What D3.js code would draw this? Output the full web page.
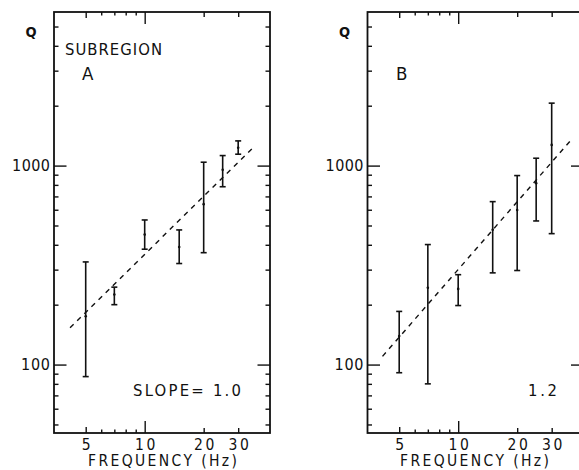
<!DOCTYPE html>
<html>
<head>
<meta charset="utf-8">
<script src="https://cdn.jsdelivr.net/npm/d3@7"></script>
<style>
  body { margin: 0; background: #fff; }
  svg text { font-family: "DejaVu Sans Condensed", "Liberation Sans Narrow", "Liberation Sans", sans-serif; fill: #111; }
</style>
</head>
<body>
<svg id="chart" width="579" height="470"></svg>
<script>
// ---- data ----
const freqA = [5, 7, 10, 15, 20, 25, 30];
const qLowA = [87, 200, 380, 322, 365, 783, 1141];
const qHighA = [328, 245, 533, 475, 1040, 1123, 1331];
const qMidA = [175, 225, 450, 390, 640, 952, 1230];
const fitA = [[4.16, 153], [36.6, 1260]];

const freqB = [5, 7, 10, 15, 20, 25, 30];
const qLowB = [91, 80, 198, 289, 297, 527, 455];
const qHighB = [185, 401, 283, 659, 891, 1089, 2060];
const qMidB = [139, 243, 240, 476, 598, 816, 1271];
const fitB = [[4.11, 110], [37.7, 1346]];

const panelLabels = ["A", "B"];
const slopeLabels = ["SLOPE= 1.0", "1.2"];
const xTickLabels = [5, 10, 20, 30];
const xMinorTicks = [6, 7, 8, 9];
const xMidTicks = [20, 30];
const yTickLabels = [100, 1000];
const yMinorTicks = [50, 60, 70, 80, 90, 200, 300, 400, 500, 600, 700, 800, 900, 2000, 3000, 4000, 5000];
const xDomain = [3.445, 43.6];
const yDomain = [45.3, 5915];

// ---- layout ----
const svg = d3.select("#chart");
const W = 216, H = 421, TOP = 12;
const panels = [
  { left: 54, freq: freqA, lo: qLowA, hi: qHighA, mid: qMidA, fit: fitA, label: panelLabels[0], slope: slopeLabels[0], sub: true,
    slopeX: 79, slopeLen: 108, titleX: 34, labelX: 28 },
  { left: 367.5, freq: freqB, lo: qLowB, hi: qHighB, mid: qMidB, fit: fitB, label: panelLabels[1], slope: slopeLabels[1], sub: false,
    slopeX: 160.5, slopeLen: 29, titleX: 32.5, labelX: 28.5 }
];

const x = d3.scaleLog().domain(xDomain).range([0, W]);
const y = d3.scaleLog().domain(yDomain).range([H, 0]);

function tickGroup(g, axis) {
  g.call(axis);
  g.select(".domain").remove();
  g.selectAll(".tick line").attr("stroke", "#111").attr("stroke-width", 1.4);
  g.selectAll(".tick text").remove();
}

panels.forEach((p, i) => {
  const g = svg.append("g").attr("transform", `translate(${p.left},${TOP})`);

  // frame
  g.append("rect").attr("x", 0).attr("y", 0).attr("width", W).attr("height", H)
    .attr("fill", "none").attr("stroke", "#111").attr("stroke-width", 1.8);

  // x ticks bottom & top (inward)
  const xt = [[[10], 12], [[5], 6], [xMidTicks, 5], [xMinorTicks, 3.5]];
  xt.forEach(([vals, len]) => {
    tickGroup(g.append("g").attr("transform", `translate(0,${H})`),
      d3.axisBottom(x).tickValues(vals).tickSize(-len));
    tickGroup(g.append("g"), d3.axisTop(x).tickValues(vals).tickSize(-len));
  });
  // y ticks left & right (inward)
  const yt = [[yTickLabels, 12.5], [yMinorTicks, 4.5]];
  yt.forEach(([vals, len]) => {
    tickGroup(g.append("g"), d3.axisLeft(y).tickValues(vals).tickSize(-len));
    tickGroup(g.append("g").attr("transform", `translate(${W},0)`),
      d3.axisRight(y).tickValues(vals).tickSize(-len));
  });

  // x tick labels
  const xl = g.append("g").attr("transform", `translate(0,${H})`)
    .call(d3.axisBottom(x).tickValues(xTickLabels).tickSize(0).tickPadding(5).tickFormat(d3.format("d")));
  xl.select(".domain").remove();
  xl.selectAll("text").attr("font-size", 15.5).attr("letter-spacing", 2.5)
    .attr("dx", 1.2).attr("dy", "0.75em").attr("fill", "#111").attr("font-family", null);

  // y tick labels
  const yl = g.append("g")
    .call(d3.axisLeft(y).tickValues(yTickLabels).tickSize(0).tickPadding(4).tickFormat(d3.format("d")));
  yl.select(".domain").remove();
  yl.selectAll("text").attr("font-size", 16).attr("fill", "#111").attr("font-family", null)
    .attr("textLength", d => d === 1000 ? 38 : 29).attr("lengthAdjust", "spacing");

  // axis title
  g.append("text").attr("x", p.titleX).attr("y", H + 33)
    .attr("font-size", 15.5).attr("textLength", 149).attr("lengthAdjust", "spacing")
    .text("FREQUENCY (Hz)");
  g.append("text").attr("x", -23).attr("y", 25).attr("text-anchor", "middle")
    .attr("font-size", 14.5).attr("font-weight", "bold").text("Q");

  // panel labels
  if (p.sub) {
    g.append("text").attr("x", 11).attr("y", 43).attr("font-size", 16.5)
      .attr("textLength", 97).attr("lengthAdjust", "spacing").text("SUBREGION");
  }
  g.append("text").attr("x", p.labelX).attr("y", 68).attr("font-size", 18.5).text(p.label);
  g.append("text").attr("x", p.slopeX).attr("y", 383.7)
    .attr("font-size", 16.5).attr("textLength", p.slopeLen).attr("lengthAdjust", "spacing").text(p.slope);

  // dashed fit line
  g.append("path").datum(p.fit)
    .attr("d", d3.line().x(d => x(d[0])).y(d => y(d[1])))
    .attr("fill", "none").attr("stroke", "#111").attr("stroke-width", 1.4)
    .attr("stroke-dasharray", "5,5");

  // error bars
  const data = p.freq.map((f, k) => ({ f, lo: p.lo[k], hi: p.hi[k], mid: p.mid[k] }));
  const bars = g.append("g").selectAll("g").data(data).join("g");
  bars.append("line").attr("x1", d => x(d.f)).attr("x2", d => x(d.f))
    .attr("y1", d => y(d.lo)).attr("y2", d => y(d.hi))
    .attr("stroke", "#111").attr("stroke-width", 1.6);
  bars.append("line").attr("x1", d => x(d.f) - 3).attr("x2", d => x(d.f) + 3)
    .attr("y1", d => y(d.hi)).attr("y2", d => y(d.hi))
    .attr("stroke", "#111").attr("stroke-width", 1.6);
  bars.append("line").attr("x1", d => x(d.f) - 3).attr("x2", d => x(d.f) + 3)
    .attr("y1", d => y(d.lo)).attr("y2", d => y(d.lo))
    .attr("stroke", "#111").attr("stroke-width", 1.6);
  bars.append("circle").attr("cx", d => x(d.f)).attr("cy", d => y(d.mid))
    .attr("r", 1.3).attr("fill", "#111");
});
</script>
</body>
</html>
